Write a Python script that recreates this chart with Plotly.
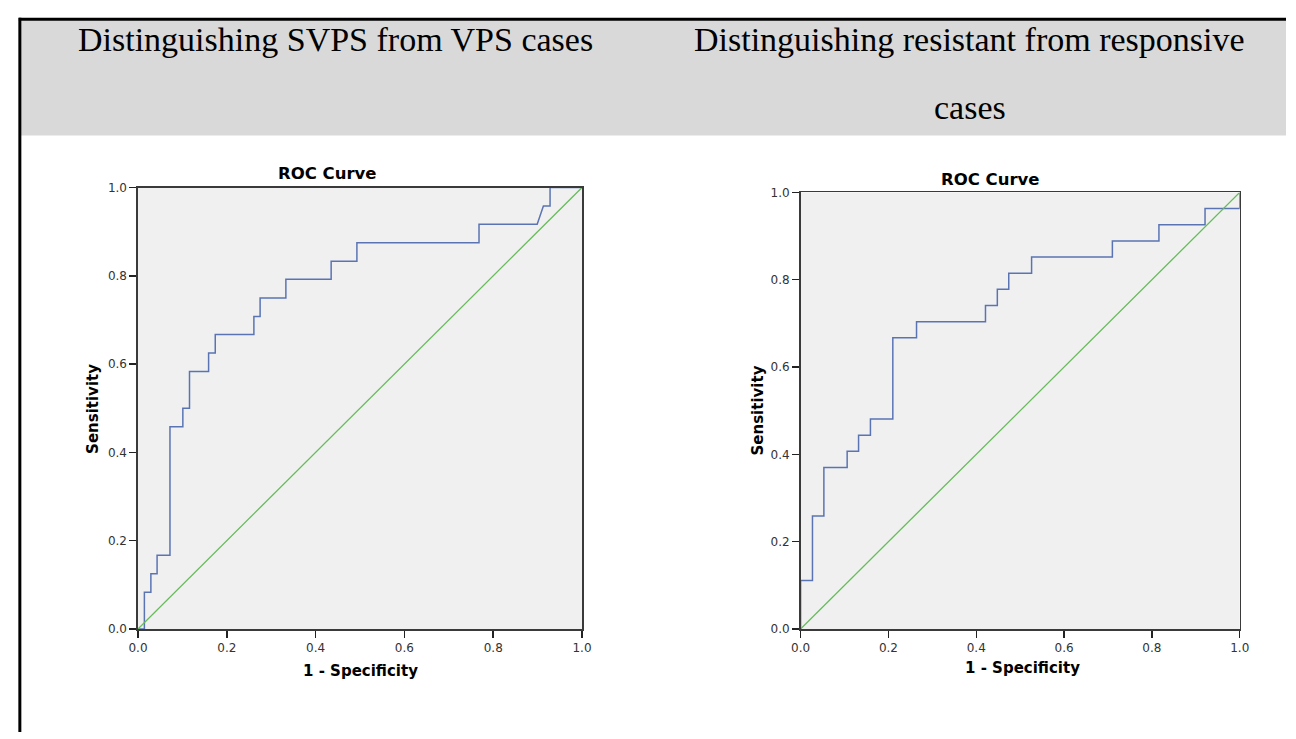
import plotly.graph_objects as go

W, H = 1296, 739

# ---- data ----
fpr_svps = [0.0, 0.0144, 0.0144, 0.029, 0.029, 0.043, 0.043, 0.072, 0.072, 0.101, 0.101,
            0.116, 0.116, 0.159, 0.159, 0.174, 0.174, 0.261, 0.261, 0.275, 0.275, 0.333,
            0.333, 0.435, 0.435, 0.493, 0.493, 0.768, 0.768, 0.899, 0.913, 0.928, 0.928, 1.0]
tpr_svps = [0.0, 0.0, 0.083, 0.083, 0.125, 0.125, 0.167, 0.167, 0.458, 0.458, 0.5,
            0.5, 0.583, 0.583, 0.625, 0.625, 0.667, 0.667, 0.708, 0.708, 0.75, 0.75,
            0.792, 0.792, 0.833, 0.833, 0.875, 0.875, 0.917, 0.917, 0.958, 0.958, 1.0, 1.0]

fpr_resist = [0.0, 0.0, 0.027, 0.027, 0.053, 0.053, 0.106, 0.106, 0.132, 0.132, 0.159,
              0.159, 0.210, 0.210, 0.264, 0.264, 0.421, 0.421, 0.448, 0.448, 0.474, 0.474,
              0.526, 0.526, 0.710, 0.710, 0.816, 0.816, 0.921, 0.921, 1.0, 1.0]
tpr_resist = [0.0, 0.111, 0.111, 0.259, 0.259, 0.370, 0.370, 0.407, 0.407, 0.444, 0.444,
              0.481, 0.481, 0.667, 0.667, 0.704, 0.704, 0.741, 0.741, 0.778, 0.778, 0.815,
              0.815, 0.852, 0.852, 0.889, 0.889, 0.926, 0.926, 0.963, 0.963, 1.0]

reference_line = [0.0, 1.0]
tick_vals = [0.0, 0.2, 0.4, 0.6, 0.8, 1.0]
tick_text = ["0.0", "0.2", "0.4", "0.6", "0.8", "1.0"]

header_left = "Distinguishing SVPS from VPS cases"
header_right_1 = "Distinguishing resistant from responsive"
header_right_2 = "cases"
chart_title = "ROC Curve"
x_title = "1 - Specificity"
y_title = "Sensitivity"


def px(x):
    return x / W


def py(y):
    return 1 - y / H


BLUE = "#5a74b3"
GREEN = "#66bb5a"

fig = go.Figure()

fig.add_trace(go.Scatter(x=fpr_svps, y=tpr_svps, mode="lines",
                         line=dict(color=BLUE, width=1.5), xaxis="x", yaxis="y",
                         showlegend=False, hoverinfo="skip"))
fig.add_trace(go.Scatter(x=reference_line, y=reference_line, mode="lines",
                         line=dict(color=GREEN, width=1.3), xaxis="x", yaxis="y",
                         showlegend=False, hoverinfo="skip"))
fig.add_trace(go.Scatter(x=fpr_resist, y=tpr_resist, mode="lines",
                         line=dict(color=BLUE, width=1.5), xaxis="x2", yaxis="y2",
                         showlegend=False, hoverinfo="skip"))
fig.add_trace(go.Scatter(x=reference_line, y=reference_line, mode="lines",
                         line=dict(color=GREEN, width=1.3), xaxis="x2", yaxis="y2",
                         showlegend=False, hoverinfo="skip"))

axis_common = dict(
    range=[0, 1], tickvals=tick_vals, ticktext=tick_text,
    ticks="outside", ticklen=7, tickwidth=1.5, tickcolor="#222",
    showline=True, linecolor="#3a3a3a", linewidth=1.6, mirror=True,
    showgrid=False, zeroline=False, fixedrange=True,
    tickfont=dict(family="DejaVu Sans", size=12, color="#333"),
)

fig.update_layout(
    width=W, height=H, autosize=False,
    margin=dict(l=0, r=0, t=0, b=0),
    paper_bgcolor="white", plot_bgcolor="#f0f0f0",
    xaxis=dict(domain=[px(130), px(581)], anchor="y", **axis_common),
    yaxis=dict(domain=[py(634), py(184)], anchor="x", **axis_common),
    xaxis2=dict(domain=[px(803), px(1249)], anchor="y2", **axis_common),
    yaxis2=dict(domain=[py(634), py(189)], anchor="x2", **axis_common),
)

shapes = [
    dict(type="rect", xref="paper", yref="paper", x0=px(10), x1=px(1296),
         y0=py(131), y1=py(13), fillcolor="#d9d9d9", line=dict(width=0), layer="below"),
    dict(type="line", xref="paper", yref="paper", x0=px(9), x1=px(1296),
         y0=py(12.5), y1=py(12.5), line=dict(color="black", width=3)),
    dict(type="line", xref="paper", yref="paper", x0=px(10), x1=px(10),
         y0=py(11), y1=py(739), line=dict(color="black", width=3)),
]
fig.update_layout(shapes=shapes)

serif = dict(family="Liberation Serif", size=34, color="black")
title_font = dict(family="DejaVu Sans", size=16.5, color="black")
axis_font = dict(family="DejaVu Sans", size=15, color="black")


def ann(text, x, y, font, angle=0):
    return dict(text=text, x=px(x), y=py(y), xref="paper", yref="paper",
                xanchor="center", yanchor="middle", showarrow=False,
                font=font, textangle=angle)


annotations = [
    ann(header_left, 331, 33, serif),
    ann(header_right_1, 975, 33, serif),
    ann(header_right_2, 975, 102, serif),
    ann("<b>" + chart_title + "</b>", 322, 170, title_font),
    ann("<b>" + chart_title + "</b>", 996, 176, title_font),
    ann("<b>" + y_title + "</b>", 85, 410, axis_font, -90),
    ann("<b>" + y_title + "</b>", 760, 411, axis_font, -90),
    ann("<b>" + x_title + "</b>", 356, 677, axis_font),
    ann("<b>" + x_title + "</b>", 1028, 674, axis_font),
]
fig.update_layout(annotations=annotations)

fig.write_html("out.html",
               config={"displayModeBar": False, "staticPlot": True},
               post_script="document.body.style.margin='0';document.body.style.overflow='hidden';")
